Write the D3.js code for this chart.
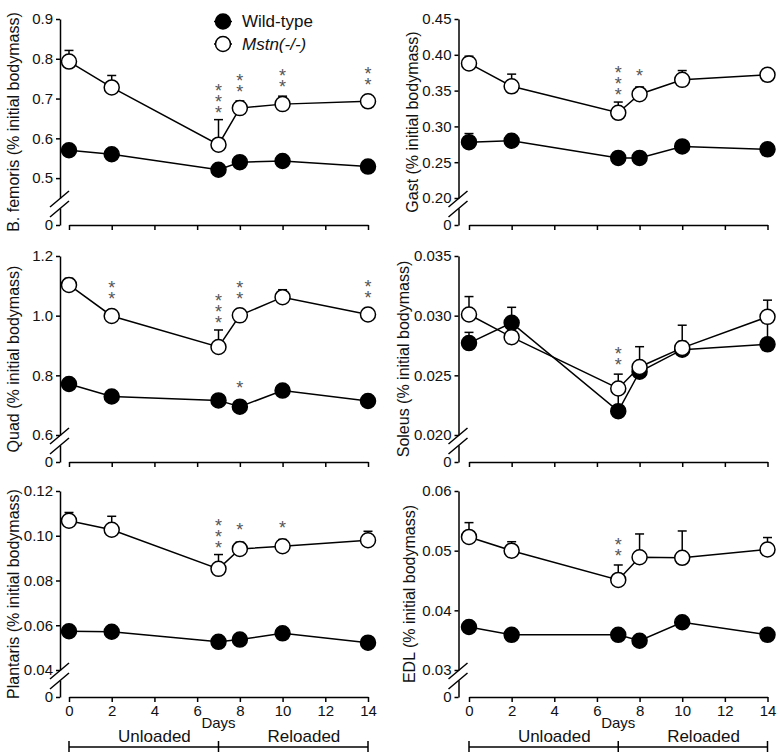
<!DOCTYPE html>
<html><head><meta charset="utf-8">
<script src="https://cdn.jsdelivr.net/npm/d3@7/dist/d3.min.js"></script>
<style>
html,body{margin:0;padding:0;background:#fff;}
svg{display:block;font-family:"Liberation Sans",Arial,sans-serif;}
.stars{writing-mode:vertical-lr;text-orientation:upright;}
</style></head>
<body><svg id="chart" width="780" height="755"></svg>
<script>
// ---------------- data ----------------
const days = [0, 2, 7, 8, 10, 14];
const xTicks = [0, 2, 4, 6, 8, 10, 12, 14];
const seriesNames = ["Wild-type", "Mstn(-/-)"];

const bfWT = [0.570, 0.560, 0.521, 0.540, 0.543, 0.529];
const bfWTerr = [0.005, 0.005, 0.015, 0.008, 0.013, 0.008];
const bfKO = [0.793, 0.728, 0.584, 0.676, 0.686, 0.693];
const bfKOerr = [0.028, 0.030, 0.063, 0.018, 0.020, 0.010];
const bfWTstars = [0, 0, 0, 0, 0, 0];
const bfKOstars = [0, 0, 3, 2, 2, 2];
const bfTicks = [0.5, 0.6, 0.7, 0.8, 0.9];

const gastWT = [0.278, 0.280, 0.256, 0.256, 0.272, 0.268];
const gastWTerr = [0.012, 0.003, 0.003, 0.003, 0.004, 0.003];
const gastKO = [0.388, 0.356, 0.319, 0.345, 0.365, 0.372];
const gastKOerr = [0.010, 0.017, 0.015, 0.010, 0.013, 0.004];
const gastWTstars = [0, 0, 0, 0, 0, 0];
const gastKOstars = [0, 0, 3, 1, 0, 0];
const gastTicks = [0.20, 0.25, 0.30, 0.35, 0.40, 0.45];

const quadWT = [0.771, 0.729, 0.716, 0.695, 0.749, 0.714];
const quadWTerr = [0.010, 0.008, 0.010, 0.008, 0.010, 0.008];
const quadKO = [1.103, 0.999, 0.895, 1.001, 1.062, 1.004];
const quadKOerr = [0.022, 0.020, 0.057, 0.020, 0.025, 0.020];
const quadWTstars = [0, 0, 0, 1, 0, 0];
const quadKOstars = [0, 2, 3, 2, 0, 2];
const quadTicks = [0.6, 0.8, 1.0, 1.2];

const solWT = [0.0277, 0.0294, 0.0220, 0.0253, 0.02715, 0.0276];
const solWTerr = [0.0009, 0.0013, 0.0015, 0.0005, 0.0007, 0.0021];
const solKO = [0.0301, 0.0282, 0.0239, 0.0257, 0.0273, 0.0299];
const solKOerr = [0.0015, 0.0005, 0.0012, 0.0017, 0.0019, 0.0014];
const solWTstars = [0, 0, 0, 0, 0, 0];
const solKOstars = [0, 0, 2, 0, 0, 0];
const solTicks = [0.020, 0.025, 0.030, 0.035];

const plWT = [0.0573, 0.0571, 0.0526, 0.0536, 0.0564, 0.0522];
const plWTerr = [0.001, 0.001, 0.001, 0.001, 0.001, 0.001];
const plKO = [0.1067, 0.1027, 0.0852, 0.0941, 0.0953, 0.0980];
const plKOerr = [0.0037, 0.0060, 0.0064, 0.0030, 0.0030, 0.0040];
const plWTstars = [0, 0, 0, 0, 0, 0];
const plKOstars = [0, 0, 3, 1, 1, 0];
const plTicks = [0.04, 0.06, 0.08, 0.10, 0.12];

const edlWT = [0.0372, 0.0359, 0.0359, 0.0349, 0.0380, 0.0359];
const edlWTerr = [0.0005, 0.0005, 0.0006, 0.0004, 0.0005, 0.0004];
const edlKO = [0.0523, 0.0500, 0.0451, 0.0489, 0.0488, 0.0502];
const edlKOerr = [0.0024, 0.0015, 0.0025, 0.0039, 0.0045, 0.0020];
const edlWTstars = [0, 0, 0, 0, 0, 0];
const edlKOstars = [0, 0, 2, 0, 0, 0];
const edlTicks = [0.03, 0.04, 0.05, 0.06];

const phaseLabels = ["Unloaded", "Reloaded"];
const phaseBounds = [0, 7, 14];
const phaseLabelDays = [4, 11];

// --------------- panels ---------------
const panels = [
  {label: "B. femoris (% initial bodymass)", wt: bfWT, wtErr: bfWTerr, ko: bfKO, koErr: bfKOerr, wtS: bfWTstars, koS: bfKOstars, ticks: bfTicks, dmin: 0.45, fmt: ".1f", col: 0, row: 0, labDx: -47, legend: true},
  {label: "Gast (% initial bodymass)", wt: gastWT, wtErr: gastWTerr, ko: gastKO, koErr: gastKOerr, wtS: gastWTstars, koS: gastKOstars, ticks: gastTicks, dmin: 0.20, fmt: ".2f", col: 1, row: 0, labDx: -46},
  {label: "Quad (% initial bodymass)", wt: quadWT, wtErr: quadWTerr, ko: quadKO, koErr: quadKOerr, wtS: quadWTstars, koS: quadKOstars, ticks: quadTicks, dmin: 0.6, fmt: ".1f", col: 0, row: 1, labDx: -47},
  {label: "Soleus (% initial bodymass)", wt: solWT, wtErr: solWTerr, ko: solKO, koErr: solKOerr, wtS: solWTstars, koS: solKOstars, ticks: solTicks, dmin: 0.020, fmt: ".3f", col: 1, row: 1, labDx: -55},
  {label: "Plantaris (% initial bodymass)", wt: plWT, wtErr: plWTerr, ko: plKO, koErr: plKOerr, wtS: plWTstars, koS: plKOstars, ticks: plTicks, dmin: 0.04, fmt: ".2f", col: 0, row: 2, labDx: -47, xlabels: true},
  {label: "EDL (% initial bodymass)", wt: edlWT, wtErr: edlWTerr, ko: edlKO, koErr: edlKOerr, wtS: edlWTstars, koS: edlKOstars, ticks: edlTicks, dmin: 0.03, fmt: ".2f", col: 1, row: 2, labDx: -49, xlabels: true}
];

// layout
const axisX = [60, 458.5];
const xRanges = [[69, 368], [469, 767.5]];
const rowTops = [19, 256, 491];
const scaleH = 179, breakGap = 10, zeroOff = 206;
const R = 7.5;
const starSize = 18, starStep = 9;

const svg = d3.select("#chart");

function styleAxis(g) {
  g.select(".domain").attr("stroke", "#000").attr("stroke-width", 1.5);
  g.selectAll(".tick line").attr("stroke", "#000").attr("stroke-width", 1.5);
  g.selectAll(".tick text").attr("fill", "#111").attr("font-size", 15)
    .attr("font-family", '"Liberation Sans",Arial,sans-serif');
}

panels.forEach(p => {
  const ax = axisX[p.col];
  const top = rowTops[p.row];
  const zeroY = top + zeroOff;
  const x = d3.scaleLinear().domain([0, 14]).range(xRanges[p.col]);
  const y = d3.scaleLinear().domain([p.dmin, d3.max(p.ticks)]).range([top + scaleH, top]);
  const g = svg.append("g");

  const ya = g.append("g").attr("transform", `translate(${ax},0)`)
    .call(d3.axisLeft(y).tickValues(p.ticks).tickFormat(d3.format(p.fmt)).tickSize(4).tickSizeOuter(0).tickPadding(3));
  styleAxis(ya);
  const y0 = d3.scaleLinear().domain([0, 1]).range([zeroY, top + scaleH + breakGap]);
  const yb = g.append("g").attr("transform", `translate(${ax},0)`)
    .call(d3.axisLeft(y0).tickValues([0]).tickFormat(d3.format("d")).tickSize(4).tickSizeOuter(0).tickPadding(3));
  styleAxis(yb);
  [0, breakGap].forEach(off => {
    g.append("line")
      .attr("x1", ax - 10).attr("y1", top + scaleH + off + 9)
      .attr("x2", ax + 9).attr("y2", top + scaleH + off - 7)
      .attr("stroke", "#000").attr("stroke-width", 1.5);
  });

  const xa = g.append("g").attr("transform", `translate(0,${zeroY})`)
    .call(d3.axisBottom(x).tickValues(xTicks).tickSize(5).tickSizeOuter(0).tickPadding(3)
      .tickFormat(p.xlabels ? d3.format("d") : () => ""));
  styleAxis(xa);

  g.append("text")
    .attr("transform", `translate(${ax + p.labDx},${top + 103}) rotate(-90)`)
    .attr("text-anchor", "middle").attr("dominant-baseline", "central")
    .attr("font-size", 16).attr("fill", "#111").text(p.label);

  const series = [
    {v: p.wt, e: p.wtErr, s: p.wtS, fill: "#000"},
    {v: p.ko, e: p.koErr, s: p.koS, fill: "#fff"}
  ];
  const line = d3.line().x((d, i) => x(days[i])).y(d => y(d));
  series.forEach(s => {
    g.append("path").attr("d", line(s.v)).attr("fill", "none")
      .attr("stroke", "#000").attr("stroke-width", 1.5);
  });
  series.forEach(s => {
    s.v.forEach((v, i) => {
      const cx = x(days[i]), cy = y(v), ty = y(v + s.e[i]);
      g.append("line").attr("x1", cx).attr("x2", cx).attr("y1", cy).attr("y2", ty)
        .attr("stroke", "#000").attr("stroke-width", 1.5);
      g.append("line").attr("x1", cx - 4.5).attr("x2", cx + 4.5).attr("y1", ty).attr("y2", ty)
        .attr("stroke", "#000").attr("stroke-width", 1.5);
    });
  });
  series.forEach(s => {
    s.v.forEach((v, i) => {
      g.append("circle").attr("cx", x(days[i])).attr("cy", y(v)).attr("r", R)
        .attr("fill", s.fill).attr("stroke", "#000").attr("stroke-width", 1.5);
    });
  });
  // significance stars: one vertical text per stack
  series.forEach(s => {
    s.v.forEach((v, i) => {
      const n = s.s[i];
      if (!n) return;
      const top0 = Math.min(y(v + s.e[i]), y(v) - R);
      const stackTop = top0 - 21 - (n - 1) * starStep;
      g.append("text").attr("class", "stars")
        .attr("x", x(days[i])).attr("y", stackTop)
        .attr("font-size", starSize).attr("letter-spacing", starStep - starSize)
        .attr("fill", "#555").text("*".repeat(n));
    });
  });

  if (p.xlabels) {
    const base = zeroY;
    g.append("text").attr("x", x(7)).attr("y", base + 31).attr("text-anchor", "middle")
      .attr("font-size", 15).attr("fill", "#111").text("Days");
    phaseLabels.forEach((t, i) => {
      g.append("text").attr("x", x(phaseLabelDays[i])).attr("y", base + 45)
        .attr("text-anchor", "middle").attr("font-size", 17).attr("fill", "#111").text(t);
    });
    g.append("line").attr("x1", x(phaseBounds[0])).attr("x2", x(phaseBounds[2]))
      .attr("y1", base + 50).attr("y2", base + 50).attr("stroke", "#000").attr("stroke-width", 1.5);
    phaseBounds.forEach(d => {
      g.append("line").attr("x1", x(d)).attr("x2", x(d)).attr("y1", base + 44).attr("y2", base + 55)
        .attr("stroke", "#000").attr("stroke-width", 1.5);
    });
  }

  if (p.legend) {
    const fills = ["#000", "#fff"];
    seriesNames.forEach((n, i) => {
      const ly = 21.5 + i * 22.5;
      g.append("line").attr("x1", 214).attr("x2", 232).attr("y1", ly).attr("y2", ly)
        .attr("stroke", "#000").attr("stroke-width", 1.5);
      g.append("circle").attr("cx", 223).attr("cy", ly).attr("r", R)
        .attr("fill", fills[i]).attr("stroke", "#000").attr("stroke-width", 1.5);
      g.append("text").attr("x", 242).attr("y", ly).attr("dominant-baseline", "central")
        .attr("font-size", 17).attr("fill", "#111")
        .attr("font-style", i === 1 ? "italic" : "normal").text(n);
    });
  }
});
</script></body></html>
